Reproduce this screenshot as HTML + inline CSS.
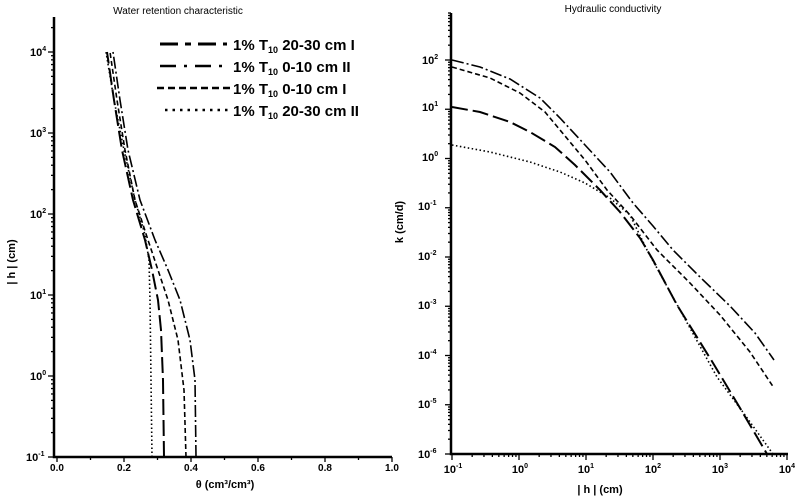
<!DOCTYPE html>
<html><head><meta charset="utf-8"><style>
html,body{margin:0;padding:0;background:#fff;width:800px;height:499px;overflow:hidden}
svg{display:block}
text{font-family:"Liberation Sans",sans-serif;fill:#000}
.t{font-size:10px}
.lab{font-size:11px;font-weight:bold}
.leg{font-size:15px;font-weight:bold}
</style></head><body>
<svg id="s" width="800" height="499" viewBox="0 0 800 499">
<!-- titles -->
<text x="178" y="14" class="t" text-anchor="middle">Water retention characteristic</text>
<text x="613" y="12" class="t" text-anchor="middle">Hydraulic conductivity</text>
<!-- left axes -->
<g stroke="#000" stroke-width="2.5" fill="none">
<path d="M54,17 V457 H392"/>
<path d="M451,13 V454 H788"/>
</g>
<g id="ticks" stroke="#000" stroke-width="1.3"></g>
<!-- left y labels -->
<g class="lab">
<text x="30" y="56">10<tspan dy="-5" font-size="7">4</tspan></text>
<text x="30" y="137">10<tspan dy="-5" font-size="7">3</tspan></text>
<text x="30" y="218">10<tspan dy="-5" font-size="7">2</tspan></text>
<text x="30" y="299">10<tspan dy="-5" font-size="7">1</tspan></text>
<text x="30" y="380">10<tspan dy="-5" font-size="7">0</tspan></text>
<text x="26" y="461">10<tspan dy="-5" font-size="7">-1</tspan></text>
</g>
<g class="t" font-weight="bold" font-size="9" text-anchor="middle">
<text x="57" y="471">0.0</text><text x="124" y="471">0.2</text><text x="191" y="471">0.4</text>
<text x="258" y="471">0.6</text><text x="325" y="471">0.8</text><text x="392" y="471">1.0</text>
</g>
<text x="225" y="488" class="lab" text-anchor="middle">θ (cm³/cm³)</text>
<text transform="translate(15,262) rotate(-90)" class="lab" text-anchor="middle">| h | (cm)</text>
<!-- right y labels -->
<g class="lab">
<text x="422" y="64">10<tspan dy="-5" font-size="7">2</tspan></text>
<text x="422" y="111">10<tspan dy="-5" font-size="7">1</tspan></text>
<text x="422" y="161">10<tspan dy="-5" font-size="7">0</tspan></text>
<text x="418" y="210">10<tspan dy="-5" font-size="7">-1</tspan></text>
<text x="418" y="260">10<tspan dy="-5" font-size="7">-2</tspan></text>
<text x="418" y="309">10<tspan dy="-5" font-size="7">-3</tspan></text>
<text x="418" y="359">10<tspan dy="-5" font-size="7">-4</tspan></text>
<text x="418" y="408">10<tspan dy="-5" font-size="7">-5</tspan></text>
<text x="418" y="458">10<tspan dy="-5" font-size="7">-6</tspan></text>
</g>
<g class="lab" text-anchor="middle">
<text x="453" y="473">10<tspan dy="-5" font-size="7">-1</tspan></text>
<text x="520" y="473">10<tspan dy="-5" font-size="7">0</tspan></text>
<text x="586" y="473">10<tspan dy="-5" font-size="7">1</tspan></text>
<text x="653" y="473">10<tspan dy="-5" font-size="7">2</tspan></text>
<text x="720" y="473">10<tspan dy="-5" font-size="7">3</tspan></text>
<text x="787" y="473">10<tspan dy="-5" font-size="7">4</tspan></text>
</g>
<text x="600" y="493" class="lab" text-anchor="middle">| h | (cm)</text>
<text transform="translate(403,222) rotate(-90)" class="lab" text-anchor="middle">k (cm/d)</text>
<!-- legend -->
<g stroke="#000" fill="none">
<path d="M160,44 H227" stroke-width="3" stroke-dasharray="18,7,6,7"/>
<path d="M160,66 H227" stroke-width="2.5" stroke-dasharray="16,8,3,8"/>
<path d="M157,88 H232" stroke-width="2.5" stroke-dasharray="7,4"/>
<path d="M165,110 H232" stroke-width="2.5" stroke-dasharray="2.5,5"/>
</g>
<g class="leg">
<text x="233" y="50">1% T<tspan dy="3" font-size="9">10</tspan><tspan dy="-3"> 20-30 cm I</tspan></text>
<text x="233" y="72">1% T<tspan dy="3" font-size="9">10</tspan><tspan dy="-3">  0-10 cm II</tspan></text>
<text x="233" y="94">1% T<tspan dy="3" font-size="9">10</tspan><tspan dy="-3">  0-10 cm I</tspan></text>
<text x="233" y="116">1% T<tspan dy="3" font-size="9">10</tspan><tspan dy="-3"> 20-30 cm II</tspan></text>
</g>
<!-- left curves -->
<g stroke="#000" fill="none" stroke-width="1.6">
<polyline stroke-dasharray="12,3,2,3" points="196,457 195,380 190,340 180,300 168,270 155,240 140,200 128,150 120,100 113,52"/>
<polyline stroke-dasharray="5,3" points="186,457 184,390 178,340 168,300 158,270 148,240 135,200 125,150 117,100 110,52"/>
<polyline stroke-dasharray="16,5" stroke-width="2" points="164,457 163,380 161,330 158,300 152,270 145,240 133,200 122,150 114,100 107,52"/>
<polyline stroke-dasharray="1.5,2.5" points="152,457 151,380 150,300 149,260 145,235 135,200 124,150 114,100 106,52"/>
</g>
<!-- right curves -->
<g stroke="#000" fill="none" stroke-width="1.6">
<polyline stroke-dasharray="12,3,2,3" points="452,60 480,67 510,79 540,98 560,118 585,145 610,172 633,203 653,226 673,250 700,277 730,306 755,333 774,360"/>
<polyline stroke-dasharray="5,3" points="452,67 490,78 520,93 545,112 560,130 585,160 607,190 630,215 657,250 690,283 720,315 750,352 774,388"/>
<polyline stroke-dasharray="16,5" stroke-width="2" points="452,107 480,112 510,122 530,132 555,147 575,165 600,190 620,212 640,238 653,260 677,305 713,363 740,408 767,454"/>
<polyline stroke-dasharray="1.5,2.5" points="452,145 490,152 530,162 560,172 585,183 610,198 630,215 647,250 680,310 717,377 745,415 773,454"/>
</g>
</svg>
<script>
var g=document.getElementById('ticks'),h='';
function L(x1,y1,x2,y2){h+='<line x1="'+x1+'" y1="'+y1+'" x2="'+x2+'" y2="'+y2+'"/>';}
// left y: decades at 457-81*k
for(var k=0;k<6;k++){var y0=457-81*k;L(48,y0,54,y0);if(k<5)for(var m=2;m<10;m++){var y=y0-81*Math.log10(m);L(51,y,54,y);}}
for(var m=2;m<10;m++){var y=52-81*Math.log10(m);if(y>17)L(51,y,54,y);}
// left x ticks
for(var i=0;i<=10;i++){var x=57+33.5*i;L(x,457,x,i%2?460:462);}
// right y: 10^-6 at 454, 49.3/dec
for(var k=0;k<9;k++){var y0=454-49.25*k;L(445,y0,451,y0);for(var m=2;m<10;m++){var y=y0-49.25*Math.log10(m);if(y>13)L(448,y,451,y);}}
// right x
for(var k=0;k<6;k++){var x0=452+67*k;L(x0,454,x0,460);if(k<5)for(var m=2;m<10;m++){var x=x0+67*Math.log10(m);L(x,454,x,457);}}
g.innerHTML=h;
</script>
</body></html>
